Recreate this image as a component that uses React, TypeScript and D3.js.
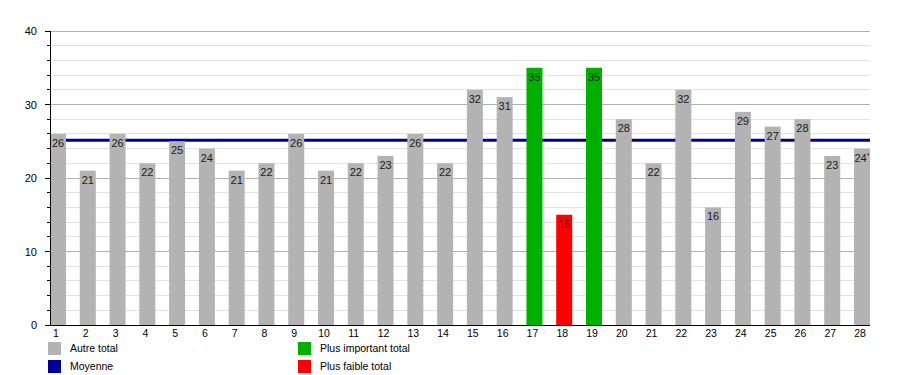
import React from "react";
import * as d3 from "d3";

const categories = Array.from({ length: 28 }, (_, i) => String(i + 1));
const values = [26, 21, 26, 22, 25, 24, 21, 22, 26, 21, 22, 23, 26, 22, 32, 31, 35, 15, 35, 28, 22, 32, 16, 29, 27, 28, 23, 24];
const valueLabels = values.map((v, i) => (i === 27 ? `${v}*` : `${v}`));
const yTicks = [0, 10, 20, 30, 40];
const legendItems = [
  { label: "Autre total", color: "#b3b3b3" },
  { label: "Moyenne", color: "#000099" },
  { label: "Plus important total", color: "#00b000" },
  { label: "Plus faible total", color: "#ff0000" },
];

export default function App() {
  const W = 900, H = 375;
  const left = 50, right = 870, top = 31, bottom = 325;
  const barW = 16;
  const maxV = d3.max(values)!;
  const minV = d3.min(values)!;
  const mean = d3.mean(values)!;
  const y = d3.scaleLinear().domain([0, 40]).range([bottom, top]);
  const x = d3.scalePoint<string>().domain(categories).range([left, right - barW]);
  const minor = d3.range(0, 41, 2);
  const color = (v: number) => (v === maxV ? "#00b000" : v === minV ? "#ff0000" : "#b3b3b3");
  const font = "Liberation Sans, Arial, sans-serif";

  return (
    <svg width={W} height={H} style={{ position: "absolute", left: 0, top: 0, fontFamily: font }}>
      <rect width={W} height={H} fill="#fff" />
      {minor.map((t) => (
        <line key={"g" + t} x1={left} x2={right} y1={y(t)} y2={y(t)}
          stroke={t % 10 === 0 ? "#b0b0b0" : "#e2e2e2"} strokeWidth={1} shapeRendering="crispEdges" />
      ))}
      {minor.map((t) => (
        <line key={"t" + t} x1={t % 10 === 0 ? left - 5 : left - 3} x2={left} y1={y(t)} y2={y(t)}
          stroke="#000" strokeWidth={1} shapeRendering="crispEdges" />
      ))}
      {yTicks.map((t) => (
        <text key={"yl" + t} x={37} y={y(t) + 4} textAnchor="end" fontSize={11} fill="#000">{t}</text>
      ))}
      <line x1={left} x2={right} y1={y(mean)} y2={y(mean)} stroke="#000099" strokeWidth={3} />
      {values.map((v, i) => {
        const bx = x(categories[i])!;
        return (
          <rect key={"b" + i} x={bx} y={y(v)} width={barW} height={bottom - y(v)} fill={color(v)} />
        );
      })}
      {values.map((v, i) => {
        const bx = x(categories[i])!;
        return (
          <text key={"vl" + i} x={bx + barW / 2} y={y(v) + 13} textAnchor="middle" fontSize={11} fill="#1a1a1a">
            {i === 27 ? (<>{v}<tspan fontSize={7} dy={-4}>*</tspan></>) : valueLabels[i]}
          </text>
        );
      })}
      <line x1={left} x2={left} y1={top} y2={bottom} stroke="#000" strokeWidth={1} shapeRendering="crispEdges" />
      <line x1={left} x2={right} y1={bottom} y2={bottom} stroke="#000" strokeWidth={1} shapeRendering="crispEdges" />
      {categories.map((c, i) => (
        <text key={"xl" + i} x={x(c)! + barW / 2 - 2} y={337} textAnchor="middle" fontSize={10.5} fill="#000">{c}</text>
      ))}
      {legendItems.map((it, i) => {
        const lx = i < 2 ? 48 : 298;
        const ly = i % 2 === 0 ? 342 : 360;
        return (
          <g key={"lg" + i}>
            <rect x={lx} y={ly} width={13} height={13} fill={it.color} />
            <text x={lx + 22} y={ly + 10} fontSize={10.5} fill="#000">{it.label}</text>
          </g>
        );
      })}
    </svg>
  );
}
